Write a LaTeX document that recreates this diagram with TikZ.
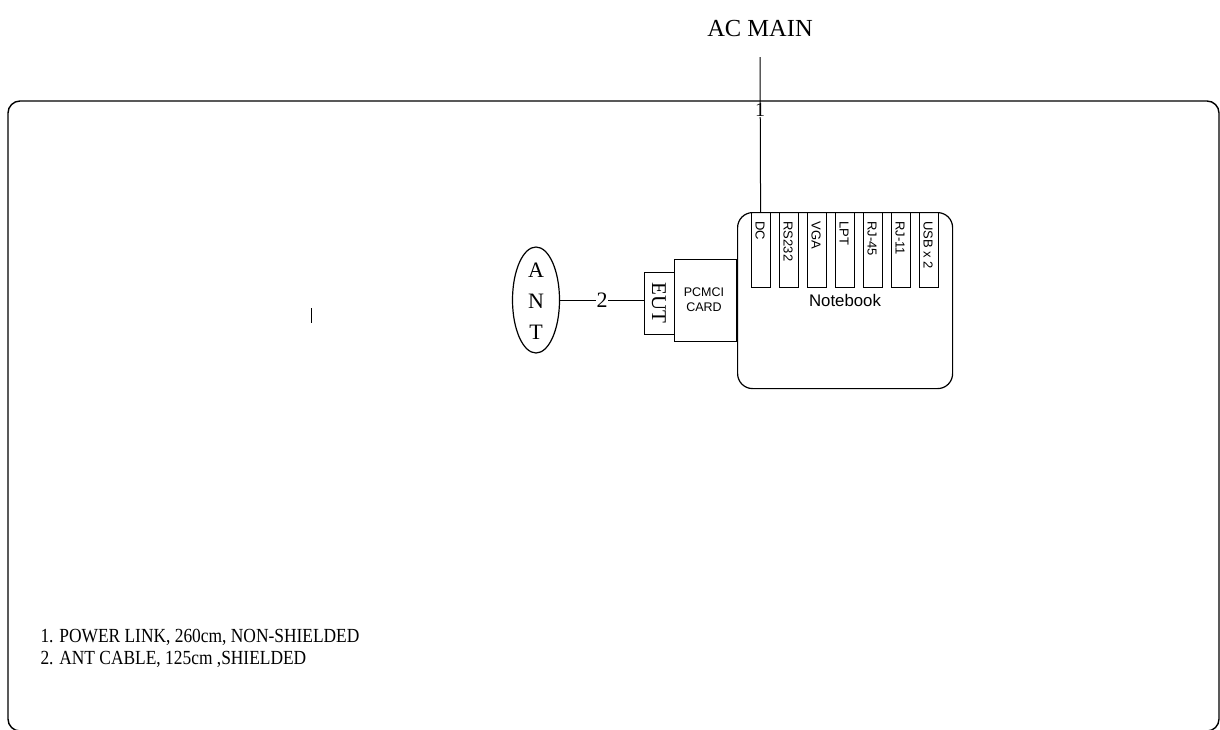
\documentclass[tikz,border=0pt]{standalone}
\usepackage{fontspec}
\setmainfont{Liberation Serif}
\setsansfont{Liberation Sans}
\newfontfamily\legendfont[FakeStretch=0.87]{Liberation Serif}
\usetikzlibrary{shapes.geometric}
\begin{document}
\begin{tikzpicture}[x=1pt,y=-1pt,line width=1pt,
  box/.style={draw,line width=1.2pt,inner sep=0pt,anchor=north west},
  port/.style={box,minimum width=19pt,minimum height=75pt},
  porttext/.style={rotate=-90,anchor=west,inner sep=0pt,font=\sffamily\fontsize{13}{14}\selectfont},
  cablelabel/.style={fill=white,inner sep=0.5pt,font=\fontsize{22}{24}\selectfont},
  legend/.style={anchor=base west,inner sep=0pt,font=\legendfont\fontsize{20}{24}\selectfont}]
\useasboundingbox (0,0) rectangle (1220,729);
% outer frame
\draw[line width=1.4pt,rounded corners=12pt] (8,101) rectangle (1219,731);
% AC main
\node[font=\fontsize{24.5}{28}\selectfont,inner sep=0pt] (ac) at (760,29) {AC MAIN};
\coordinate (acend) at (760,57);
% notebook
\node[box,rounded corners=15pt,minimum width=215pt,minimum height=176pt] (nb) at (737,212) {};
\node[font=\sffamily\fontsize{16.8}{19}\selectfont,inner sep=0pt] (nbt) at (845,300) {Notebook};
\node[port] (p0) at (750.5,212) {};
\node[port] (p1) at (778.5,212) {};
\node[port] (p2) at (806.5,212) {};
\node[port] (p3) at (834.5,212) {};
\node[port] (p4) at (862.5,212) {};
\node[port] (p5) at (890.5,212) {};
\node[port] (p6) at (918.5,212) {};
\node[porttext] (t0) at (760,221) {DC};
\node[porttext] (t1) at (788,221) {RS232};
\node[porttext] (t2) at (816,221) {VGA};
\node[porttext] (t3) at (844,221) {LPT};
\node[porttext] (t4) at (872,221) {RJ-45};
\node[porttext] (t5) at (900,221) {RJ-11};
\node[porttext] (t6) at (928,221) {USB x 2};
% card and EUT
\node[box,minimum width=62pt,minimum height=82pt] (card) at (674,259) {};
\node[align=center,font=\sffamily\fontsize{12.5}{15}\selectfont,inner sep=0pt] (cardt) at (704,300) {PCMCI\\CARD};
\node[box,minimum width=30pt,minimum height=62pt] (eut) at (644,272) {};
\node[rotate=-90,font=\fontsize{21}{24}\selectfont,inner sep=0pt] (eutt) at (659,303) {EUT};
% antenna
\node[draw,ellipse,line width=1.2pt,minimum width=47pt,minimum height=106pt,inner sep=0pt] (ant) at (536,300) {};
\node[align=center,font=\fontsize{22}{31}\selectfont,inner sep=0pt] (antt) at (536,301) {A\\N\\T};
% cables
\draw (acend) -- node[cablelabel,pos=0.34,font=\fontsize{20}{22}\selectfont] (l1) {1} (p0.north);
\draw (ant.east) -- node[cablelabel] (l2) {2} (ant.east -| eut.west);
% tick
\draw (311,308) -- (311,323);
% legend
\node[legend] (lg1) at (40,642) {1. POWER LINK, 260cm, NON-SHIELDED};
\node[legend] (lg2) at (40,664) {2. ANT CABLE, 125cm ,SHIELDED};
\end{tikzpicture}
\end{document}
